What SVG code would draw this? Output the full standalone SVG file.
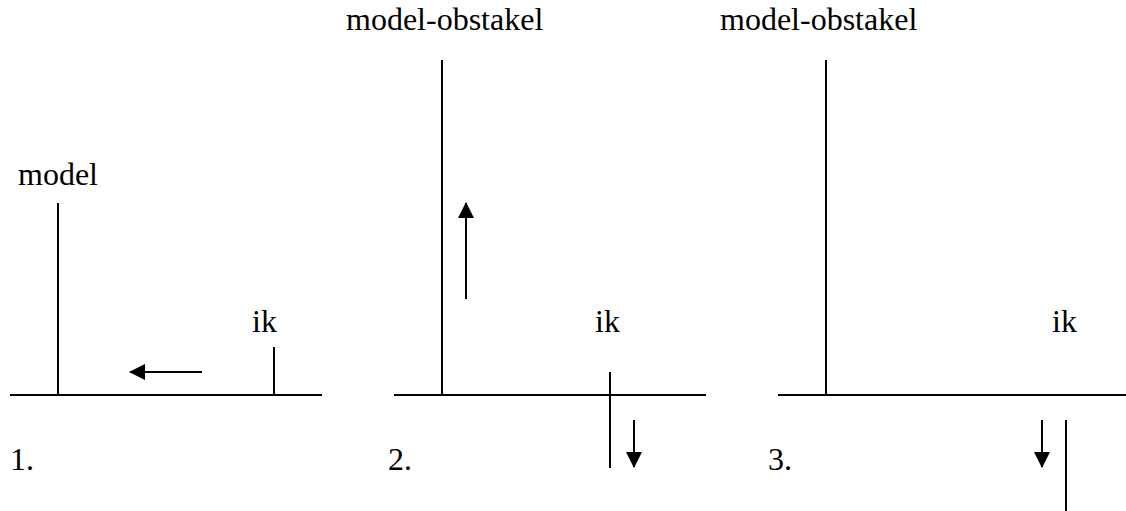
<svg xmlns="http://www.w3.org/2000/svg" width="1126" height="511" viewBox="0 0 1126 511">
<style>
.l{stroke:#000;stroke-width:2;fill:none}
text{font-family:'Liberation Serif','Times New Roman','DejaVu Serif',serif;font-size:32px;fill:#000}
</style>
<defs>
<marker id="ah" viewBox="0 0 16 16" refX="15" refY="8" markerWidth="16" markerHeight="16" markerUnits="userSpaceOnUse" orient="auto">
<path d="M0,0 L16,8 L0,16 Z" fill="#000"/>
</marker>
</defs>
<rect width="1126" height="511" fill="#fff"/>
<g id="panel1" font-family="Liberation Serif, serif">
<line class="l" x1="10" y1="395" x2="322" y2="395"/>
<line class="l" x1="58" y1="203" x2="58" y2="395"/>
<line class="l" x1="274" y1="347" x2="274" y2="395"/>
<text x="18" y="185">model</text>
<text x="252" y="332">ik</text>
<text x="10" y="470">1.</text>
</g>
<g id="panel2">
<line class="l" x1="394" y1="395" x2="706" y2="395"/>
<line class="l" x1="442" y1="60" x2="442" y2="395"/>
<line class="l" x1="610" y1="372" x2="610" y2="468"/>
<text x="346" y="30">model-obstakel</text>
<text x="595" y="332">ik</text>
<text x="388" y="470">2.</text>
</g>
<g id="panel3">
<line class="l" x1="778" y1="395" x2="1126" y2="395"/>
<line class="l" x1="826" y1="60" x2="826" y2="395"/>
<line class="l" x1="1066" y1="420" x2="1066" y2="511"/>
<text x="720" y="30">model-obstakel</text>
<text x="1052" y="332">ik</text>
<text x="768" y="470">3.</text>
</g>
<g id="connectors">
<line class="l" x1="202" y1="372" x2="130" y2="372" marker-end="url(#ah)"/>
<line class="l" x1="466" y1="299" x2="466" y2="203" marker-end="url(#ah)"/>
<line class="l" x1="634" y1="420" x2="634" y2="467" marker-end="url(#ah)"/>
<line class="l" x1="1042" y1="420" x2="1042" y2="467" marker-end="url(#ah)"/>
</g>
</svg>
